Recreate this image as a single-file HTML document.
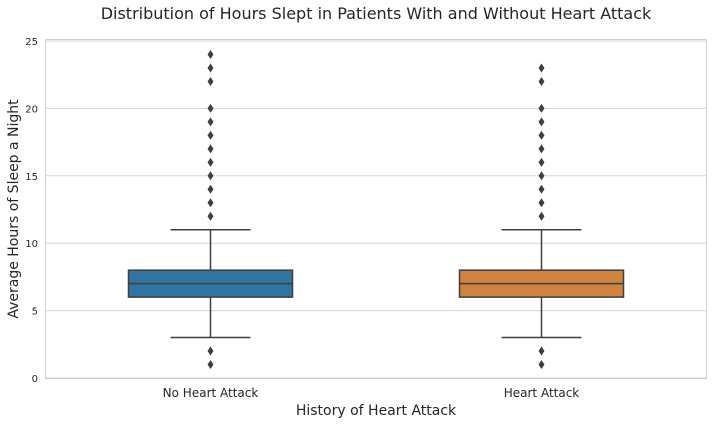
<!DOCTYPE html>
<html><head><meta charset="utf-8"><style>
html,body{margin:0;padding:0;background:#fff;width:712px;height:424px;overflow:hidden;font-family:"DejaVu Sans",sans-serif;}
</style></head><body>
<svg id="chart" width="712" height="424" xmlns="http://www.w3.org/2000/svg" font-family="DejaVu Sans, sans-serif">
<text x="376" y="19" text-anchor="middle" font-size="16" fill="#262626">Distribution of Hours Slept in Patients With and Without Heart Attack</text>
<text x="376" y="415" text-anchor="middle" font-size="14" fill="#262626">History of Heart Attack</text>
<text transform="translate(18,209) rotate(-90)" text-anchor="middle" font-size="14" fill="#262626">Average Hours of Sleep a Night</text>
<g id="grid"></g><g id="marks"></g><g id="ticks"></g>
<rect x="45.5" y="39.5" width="661" height="339" fill="none" stroke="#d0d0d0"/>
</svg>
<script>
const categories = ["No Heart Attack", "Heart Attack"];
const q1 = [6, 6];
const medians = [7, 7];
const q3 = [8, 8];
const whiskLow = [3, 3];
const whiskHigh = [11, 11];
const outliers = [[1,2,12,13,14,15,16,17,18,19,20,22,23,24],[1,2,12,13,14,15,16,17,18,19,20,22,23]];
const colors = ["#3274a1", "#d0823f"];
const yTicks = [0,5,10,15,20,25];
const NS = "http://www.w3.org/2000/svg";
const L=45, R=707, T=39, B=379;
function y(v){ return 378 - v*(378-41)/25; }
function x(i){ return L + (R-L)*(i+0.5)/categories.length; }
function mk(tag, attrs, parent){ const e=document.createElementNS(NS,tag); for(const k in attrs) e.setAttribute(k,attrs[k]); parent.appendChild(e); return e; }
const grid=document.getElementById('grid'), marks=document.getElementById('marks'), ticks=document.getElementById('ticks');
yTicks.forEach(t=>{
  const g=mk('line',{x1:L,x2:R,y1:y(t),y2:y(t),stroke:'#d6d6d6','stroke-width':1},grid);
  
  
  const tx=mk('text',{x:38,y:y(t)+4,'text-anchor':'end','font-size':10,fill:'#262626'},ticks);
  tx.textContent=t;
  
  
});
categories.forEach((c,i)=>{
  const cx=x(i), hw=82, cw=40, st='#3f3f3f';
  const g=mk('g',{},marks);
  
  
  mk('line',{x1:cx,x2:cx,y1:y(q3[i]),y2:y(whiskHigh[i]),stroke:st,'stroke-width':1.5},g);
  mk('line',{x1:cx,x2:cx,y1:y(q1[i]),y2:y(whiskLow[i]),stroke:st,'stroke-width':1.5},g);
  mk('line',{x1:cx-cw,x2:cx+cw,y1:y(whiskHigh[i]),y2:y(whiskHigh[i]),stroke:st,'stroke-width':1.5},g);
  mk('line',{x1:cx-cw,x2:cx+cw,y1:y(whiskLow[i]),y2:y(whiskLow[i]),stroke:st,'stroke-width':1.5},g);
  mk('rect',{x:cx-hw,y:y(q3[i]),width:2*hw,height:y(q1[i])-y(q3[i]),fill:colors[i],stroke:st,'stroke-width':1.5},g);
  mk('line',{x1:cx-hw,x2:cx+hw,y1:y(medians[i]),y2:y(medians[i]),stroke:st,'stroke-width':1.5},g);
  outliers[i].forEach(v=>{
    const cy=y(v);
    const o=mk('polygon',{points:`${cx},${cy-4.5} ${cx+3},${cy} ${cx},${cy+4.5} ${cx-3},${cy}`,fill:'#3f3f3f'},g);
    
    
  });
  const lb=mk('text',{x:cx,y:397,'text-anchor':'middle','font-size':12,fill:'#262626'},ticks);
  lb.textContent=c;
  
  
});
</script>
</body></html>
